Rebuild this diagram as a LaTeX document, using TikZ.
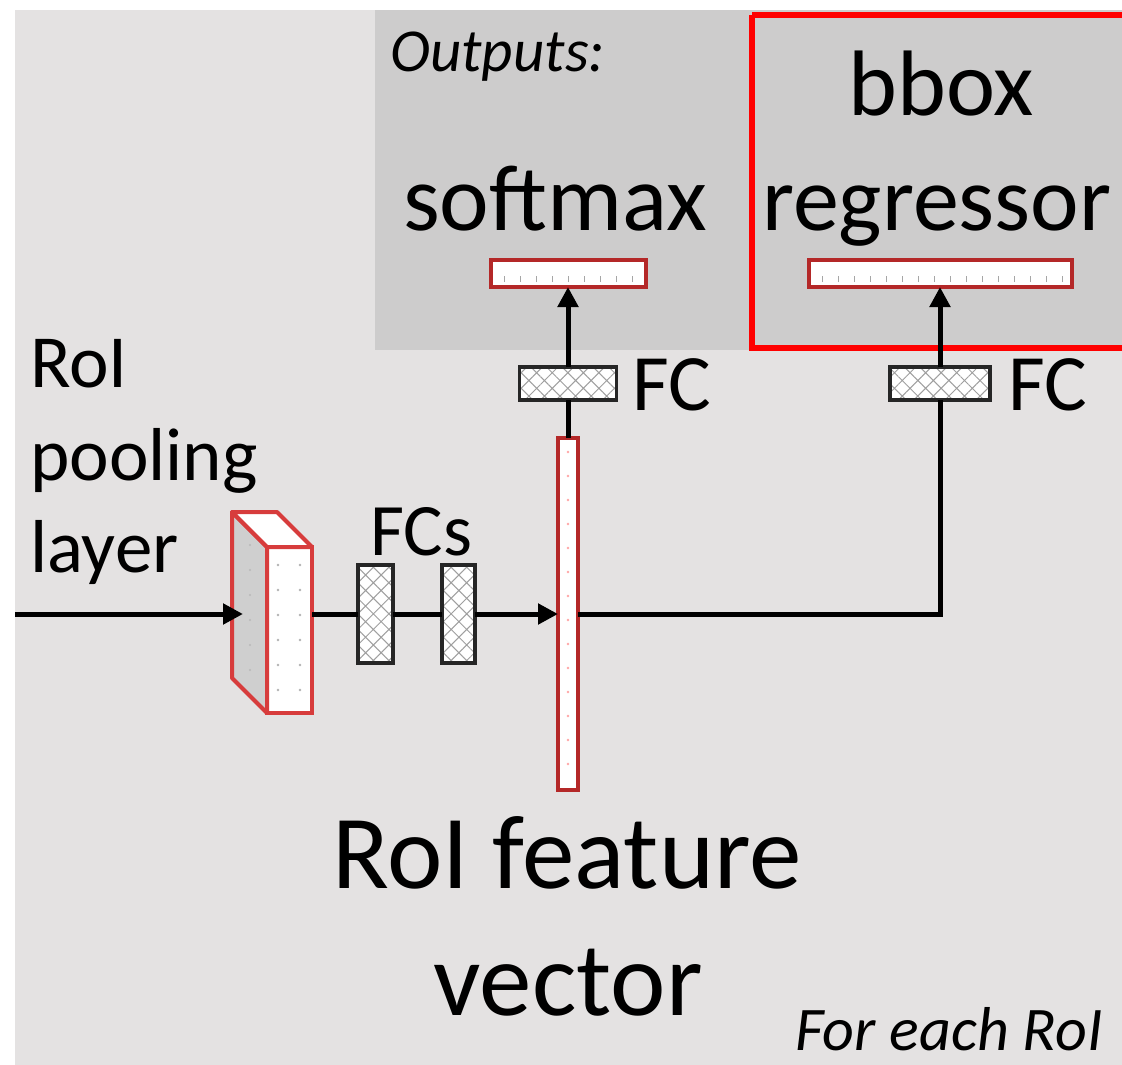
\documentclass[tikz,border=0pt]{standalone}
\usepackage{fontspec}
\setmainfont{Carlito}
\usetikzlibrary{arrows.meta,patterns.meta,calc}
\definecolor{bglight}{RGB}{228,226,226}
\definecolor{bgdark}{RGB}{205,204,204}
\definecolor{vecred}{RGB}{180,40,40}
\definecolor{cubered}{RGB}{215,60,60}
\newcommand{\myfs}[1]{\fontsize{#1}{#1}\selectfont}
\begin{document}
\begin{tikzpicture}[x=1pt,y=-1pt,
  conn/.style={line width=5pt,black},
  arr/.style={conn,-{Triangle[length=20pt,width=20pt]}},
  vecbar/.style={draw=vecred,line width=4pt,fill=white,inner sep=0pt,outer sep=0pt},
  fcbox/.style={draw=black!85,line width=3.5pt,inner sep=0pt,outer sep=0pt,
    preaction={fill=white},pattern={Hatch[angle=45,distance=11pt,line width=1pt]},pattern color=gray!75},
  lbl/.style={inner sep=0pt,anchor=base west},
  clbl/.style={inner sep=0pt,anchor=base},
  tick/.style={gray!70,line width=1pt},
]
\useasboundingbox (0,0) rectangle (1122,1065);
% backgrounds
\fill[white] (0,0) rectangle (1122,1065);
\fill[bglight] (15,10) rectangle (1122,1065);
\fill[bgdark] (375,10) rectangle (1122,350);
\draw[red,line width=6pt] (752,15) -- (1135,15) (752,15) -- (752,348) -- (1135,348);

% texts
\node[lbl,font=\itshape\myfs{61}] (outl) at (390,72) {Outputs:};
\node[clbl,font=\myfs{93}] (bboxl) at (941,115) {bbox};
\node[lbl,font=\myfs{94}] (smaxl) at (403,230) {softmax};
\node[lbl,font=\myfs{92}] (regl) at (762,230) {regressor};
\node[lbl,font=\myfs{80}] (fcal) at (632,410) {FC};
\node[lbl,font=\myfs{80}] (fcbl) at (1008,410) {FC};
\node[lbl,font=\myfs{74}] (fcsl) at (370,555) {FCs};
\node[lbl,font=\myfs{75}] (roil) at (30,387) {RoI};
\node[lbl,font=\myfs{75}] (pooll) at (30,480) {pooling};
\node[lbl,font=\myfs{75}] (layl) at (30,572) {layer};
\node[clbl,font=\myfs{105}] (featl) at (567,888) {RoI feature};
\node[clbl,font=\myfs{105}] (vecl) at (568,1015) {vector};
\node[lbl,font=\itshape\myfs{62}] (eachl) at (795,1050) {For each RoI};

% output bars
\node[vecbar,minimum width=155pt,minimum height=27pt] (bara) at (568,273.5) {};
\node[vecbar,minimum width=263pt,minimum height=27pt] (barb) at (940,273.5) {};
\foreach \xx in {504,520,...,640} \draw[tick] (\xx,282) -- (\xx,276);
\foreach \xx in {822,838,...,1064} \draw[tick] (\xx,282) -- (\xx,276);

% FC boxes
\node[fcbox,minimum width=97pt,minimum height=33pt] (fca) at (568,383.5) {};
\node[fcbox,minimum width=100pt,minimum height=33pt] (fcb) at (940,383.5) {};
\node[fcbox,minimum width=35pt,minimum height=98pt] (fc1) at (375.5,614) {};
\node[fcbox,minimum width=33pt,minimum height=98pt] (fc2) at (458.5,614) {};

% feature vector
\node[vecbar,minimum width=20pt,minimum height=352pt] (fv) at (568,614) {};
\foreach \yy in {452,476,...,780} \fill[red!35] (568,\yy) circle (1.3);

% RoI pooling cube
\node[draw=cubered,line width=4pt,fill=white,minimum width=45pt,minimum height=166pt,inner sep=0pt,outer sep=0pt] (cube) at (289.5,630) {};
\filldraw[draw=cubered,line width=4pt,fill=gray!38,line join=round] (cube.north west) -- ++(-35,-35) -- ++(0,166) -- (cube.south west) -- cycle;
\filldraw[draw=cubered,line width=4pt,fill=white,line join=round] (cube.north west) -- ++(-35,-35) -- ++(45,0) -- (cube.north east) -- cycle;
\foreach \yy in {565,590,...,700} {
  \fill[gray!60] (278,\yy) circle (1.3);
  \fill[gray!60] (300,\yy) circle (1.3);
}
\foreach \yy in {545,570,...,670} \fill[gray!55] (250,\yy) circle (1.2);

% connectors
\coordinate (in) at (15,614);
\draw[arr,shorten >=24pt] (in) -- (cube.west |- in);
\draw[conn] (cube.east |- fc1.west) -- (fc1.west);
\draw[conn] (fc1.east) -- (fc2.west);
\draw[arr] (fc2.east) -- (fv.west);
\draw[conn] (fv.east) -| (fcb.south);
\draw[conn] (fv.north) -- (fca.south);
\draw[arr] (fca.north) -- (bara.south);
\draw[arr] (fcb.north) -- (barb.south);
\end{tikzpicture}
\end{document}
